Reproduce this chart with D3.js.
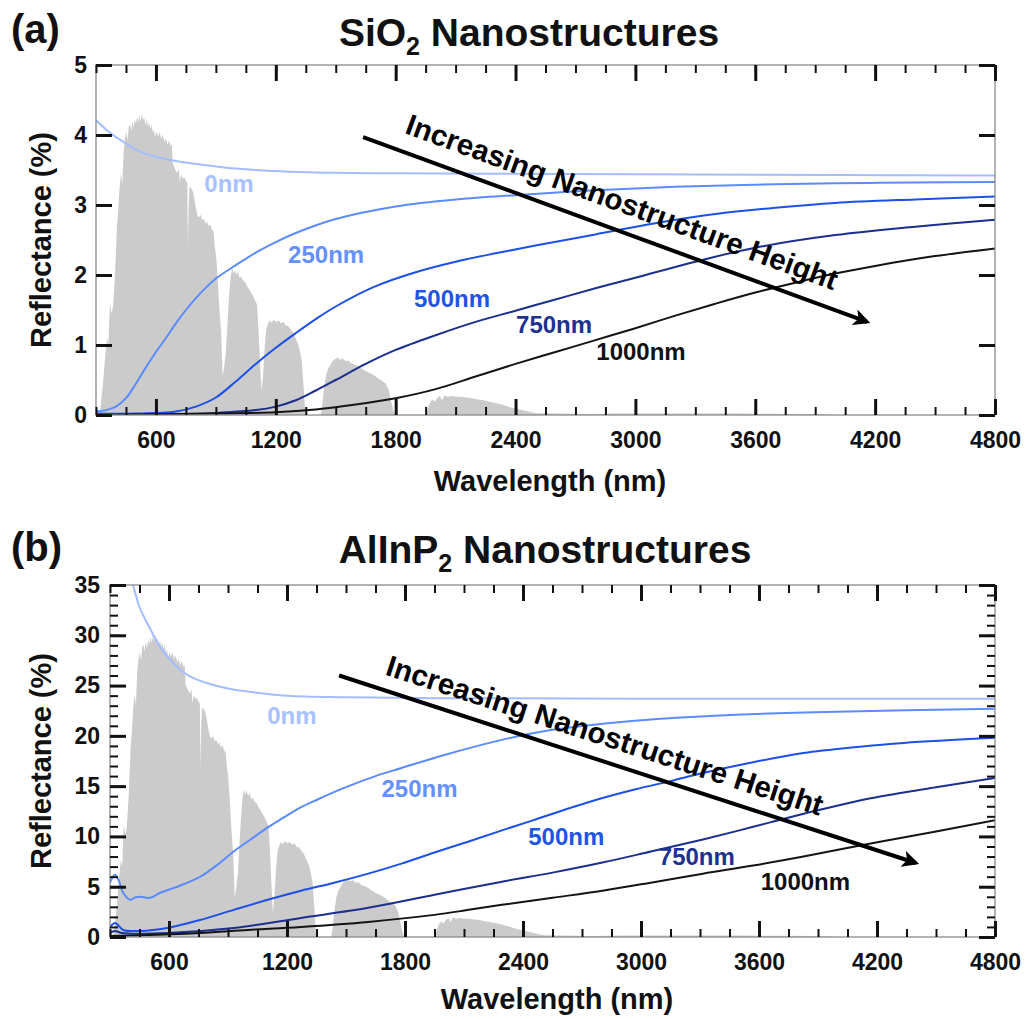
<!DOCTYPE html>
<html><head><meta charset="utf-8">
<script src="https://cdn.jsdelivr.net/npm/d3@7"></script>
<style>
body{margin:0;background:#fff}
svg{display:block}
text{font-family:"Liberation Sans",Arial,sans-serif;font-weight:bold}
</style>
</head><body>
<svg id="chart" width="1027" height="1019"></svg>
<script>
// ---------------- DATA ----------------
const xMajorTicks = [600, 1200, 1800, 2400, 3000, 3600, 4200, 4800];
const yTicksA = [0, 1, 2, 3, 4, 5];
const yTicksB = [0, 5, 10, 15, 20, 25, 30, 35];
const seriesNames = ["0nm", "250nm", "500nm", "750nm", "1000nm"];
const seriesColors = ["#a3bdff", "#5b8bff", "#1c50e8", "#1b2f8e", "#141414"];
const labelColors = ["#a8c1ff", "#6591ff", "#1f55e6", "#1d3191", "#111111"];

// AM1.5-like solar spectrum (drawn in panel (a) reflectance units)
const solarSpectrum = [
  [300,0],[320,0.05],[335,0.45],[345,0.8],[355,1.1],[362,1.0],[370,1.6],[378,1.45],[385,1.55],[395,2.0],
  [405,2.7],[412,2.95],[418,3.25],[425,3.45],[432,3.3],[438,3.75],[445,3.95],[452,4.05],[458,3.92],[464,4.12],
  [470,4.15],[476,4.06],[482,4.2],[488,4.1],[494,4.22],[500,4.16],[506,4.26],[512,4.18],[518,4.29],[524,4.2],
  [530,4.3],[536,4.22],[542,4.24],[548,4.14],[554,4.22],[560,4.12],[566,4.18],[572,4.08],[578,4.15],[584,4.04],
  [590,4.08],[596,3.96],[602,4.05],[610,3.98],[618,4.04],[626,3.95],[634,4.0],[642,3.9],[650,3.95],[658,3.86],
  [666,3.92],[674,3.84],[680,3.86],[684,3.6],[690,3.55],[698,3.5],[706,3.46],[714,3.52],[720,3.32],[726,3.44],
  [734,3.38],[742,3.4],[750,3.34],[757,3.32],[760,2.4],[764,3.0],[768,3.26],[776,3.24],[784,3.2],[792,3.1],
  [800,2.95],[808,2.85],[816,2.82],[824,2.86],[832,2.78],[840,2.8],[848,2.74],[856,2.76],[864,2.7],[872,2.72],
  [880,2.65],[888,2.62],[895,2.4],[902,2.25],[910,1.9],[918,1.5],[926,1.2],[934,0.55],[942,0.7],[950,0.9],
  [958,1.3],[966,1.7],[974,1.98],[982,2.1],[988,2.02],[995,2.08],[1002,2.0],[1010,2.05],[1018,1.96],[1026,1.98],
  [1036,1.92],[1046,1.9],[1056,1.84],[1066,1.8],[1076,1.75],[1086,1.7],[1096,1.64],[1106,1.58],[1112,1.3],[1120,0.8],
  [1128,0.35],[1136,0.55],[1144,0.95],[1152,1.22],[1160,1.3],[1168,1.35],[1178,1.32],[1190,1.36],[1202,1.33],[1214,1.35],
  [1226,1.31],[1238,1.33],[1250,1.28],[1262,1.27],[1274,1.22],[1286,1.18],[1298,1.1],[1310,1.03],[1320,0.92],[1330,0.78],
  [1338,0.45],[1346,0.1],[1352,0],[1425,0],[1432,0.12],[1442,0.4],[1452,0.58],[1462,0.66],[1474,0.72],[1486,0.78],
  [1498,0.8],[1510,0.82],[1522,0.79],[1534,0.81],[1548,0.77],[1562,0.78],[1578,0.74],[1594,0.72],[1612,0.7],[1630,0.66],
  [1650,0.63],[1670,0.6],[1690,0.57],[1710,0.53],[1730,0.49],[1750,0.45],[1765,0.36],[1780,0.16],[1792,0.03],[1800,0],
  [1950,0],[1960,0.08],[1972,0.18],[1984,0.22],[1996,0.19],[2008,0.24],[2020,0.27],[2032,0.21],[2044,0.28],[2060,0.26],
  [2080,0.27],[2100,0.26],[2125,0.26],[2150,0.25],[2180,0.24],[2210,0.22],[2240,0.21],[2270,0.19],[2300,0.17],[2330,0.15],
  [2360,0.12],[2390,0.1],[2420,0.08],[2450,0.06],[2480,0.04],[2510,0.025],[2600,0.02],[2750,0.015],[2900,0.02],[3100,0.02],
  [3300,0.02],[3500,0.02],[3700,0.018],[3900,0.015],[4000,0],[4800,0]
];
const spectrumScaleA = 1.0;
const spectrumScaleB = 7.0;

// Panel (a) SiO2 reflectance (%)
const sio2_0nm = [[300,4.21],[350,4.08],[400,3.97],[450,3.88],[500,3.79],[550,3.73],[600,3.69],[700,3.63],[820,3.58],[1000,3.52],[1155,3.49],[1500,3.46],[2000,3.45],[3000,3.44],[4000,3.43],[4800,3.42]];
const sio2_250nm = [[300,0.05],[350,0.07],[400,0.12],[450,0.24],[500,0.45],[550,0.68],[600,0.9],[650,1.1],[700,1.31],[750,1.5],[800,1.67],[850,1.82],[900,1.95],[1000,2.14],[1100,2.32],[1200,2.47],[1300,2.6],[1500,2.8],[1800,2.98],[2100,3.08],[2400,3.14],[2800,3.21],[3200,3.26],[3600,3.29],[4000,3.31],[4400,3.32],[4800,3.33]];
const sio2_500nm = [[300,0.02],[500,0.02],[700,0.05],[800,0.12],[900,0.25],[1000,0.48],[1100,0.73],[1200,0.96],[1300,1.17],[1400,1.37],[1500,1.55],[1700,1.84],[1900,2.04],[2100,2.19],[2300,2.31],[2500,2.42],[2800,2.58],[3100,2.74],[3400,2.87],[3700,2.96],[4000,3.03],[4400,3.08],[4800,3.12]];
const sio2_750nm = [[300,0.0],[700,0.01],[900,0.03],[1100,0.07],[1200,0.12],[1300,0.21],[1400,0.35],[1500,0.5],[1650,0.73],[1800,0.93],[2000,1.14],[2200,1.33],[2400,1.49],[2600,1.65],[2800,1.81],[3000,1.96],[3300,2.19],[3600,2.39],[4000,2.57],[4400,2.69],[4800,2.79]];
const sio2_1000nm = [[300,0.0],[600,0.01],[900,0.02],[1200,0.04],[1400,0.08],[1600,0.15],[1800,0.24],[2000,0.37],[2200,0.55],[2400,0.73],[2600,0.9],[2800,1.07],[3000,1.24],[3200,1.42],[3400,1.59],[3600,1.75],[3800,1.89],[4000,2.02],[4200,2.13],[4500,2.27],[4800,2.38]];

// Panel (b) AlInP2 reflectance (%)
const alinp_0nm = [[300,42],[350,39],[400,36],[420,34.8],[450,32.8],[500,30.8],[550,29.0],[600,27.7],[650,26.7],[700,26.0],[800,25.2],[900,24.7],[1000,24.4],[1200,24.0],[1500,23.85],[2000,23.75],[3000,23.7],[4800,23.7]];
const alinp_250nm = [[300,5.4],[325,6.2],[345,5.6],[367,4.4],[402,3.7],[430,3.95],[453,4.0],[505,3.9],[555,4.4],[642,5.0],[760,6.0],[847,7.2],[929,8.5],[1015,9.7],[1102,10.9],[1184,11.9],[1270,12.9],[1358,13.7],[1450,14.5],[1526,15.1],[1650,16.0],[1782,16.8],[2000,18.1],[2293,19.6],[2550,20.6],[2804,21.2],[3100,21.7],[3484,22.1],[3995,22.4],[4800,22.7]];
const alinp_500nm = [[300,1.0],[325,1.4],[345,1.1],[367,0.7],[453,0.6],[591,0.9],[760,1.7],[929,2.7],[1102,3.7],[1271,4.6],[1440,5.4],[1613,6.3],[1782,7.3],[1950,8.4],[2124,9.5],[2293,10.6],[2450,11.6],[2635,12.8],[2800,13.8],[2973,14.7],[3150,15.5],[3315,16.3],[3550,17.3],[3826,18.3],[4100,18.9],[4337,19.3],[4800,19.8]];
const alinp_750nm = [[300,0.4],[325,0.6],[360,0.4],[591,0.4],[929,0.9],[1271,1.9],[1613,2.9],[1950,4.2],[2293,5.5],[2550,6.4],[2804,7.4],[3050,8.5],[3315,9.7],[3500,10.6],[3657,11.4],[3900,12.6],[4168,13.8],[4500,14.9],[4800,15.8]];
const alinp_1000nm = [[300,0.1],[500,0.2],[760,0.4],[1000,0.7],[1271,1.0],[1613,1.5],[1950,2.2],[2124,2.7],[2293,3.2],[2550,3.9],[2804,4.6],[3050,5.4],[3315,6.3],[3570,7.1],[3826,8.0],[4168,9.3],[4500,10.5],[4800,11.6]];

// label anchors (data coords: nm, reflectance at baseline)
const labelPosA = [[966,3.19],[1452,2.17],[2082,1.54],[2593,1.17],[3028,0.79]];
const labelPosB = [[1225,21.2],[1874,13.9],[2620,9.15],[3284,7.16],[3836,4.67]];
// arrows: [startNm, startR, endNm, endR]
const arrowA = [1637, 3.97, 4160, 1.33];
const arrowB = [1465, 26.0, 4398, 7.36];
const arrowText = "Increasing Nanostructure Height";

// ---------------- DRAW ----------------
const svg = d3.select("#chart");
const defs = svg.append("defs");
defs.append("marker").attr("id","arrowhead").attr("viewBox","0 0 10 10")
  .attr("refX",8).attr("refY",5).attr("markerWidth",4.2).attr("markerHeight",4.2)
  .attr("orient","auto").attr("markerUnits","strokeWidth")
  .append("path").attr("d","M0,0 L10,5 L0,10 L2.5,5 Z").attr("fill","#000");

const fmt = d3.format("d");

function styleAxis(g, width, showText, fontSize) {
  g.attr("font-size", null).attr("font-family", null);
  g.select(".domain").remove();
  g.selectAll(".tick line").attr("stroke", "#111").attr("stroke-width", width);
  g.selectAll(".tick text").attr("fill", "#111").style("font-size", fontSize + "px")
    .style("display", showText ? null : "none");
}

function drawPanel(p) {
  const x = d3.scaleLinear().domain([300, 4800]).range([p.left, p.right]);
  const y = d3.scaleLinear().domain([0, p.yMax]).range([p.bottom, p.top]);
  const g = svg.append("g");
  const clipId = "clip" + p.id;
  defs.append("clipPath").attr("id", clipId).append("rect")
    .attr("x", p.left).attr("y", p.top).attr("width", p.right - p.left).attr("height", p.bottom - p.top);

  const area = d3.area().x(d => x(d[0])).y0(y(0)).y1(d => y(d[1] * p.specScale));
  g.append("path").datum(solarSpectrum).attr("d", area).attr("fill", "#cbcbcb")
    .attr("clip-path", `url(#${clipId})`);

  const line = d3.line().x(d => x(d[0])).y(d => y(d[1])).curve(d3.curveCatmullRom.alpha(0.5));
  p.series.forEach((s, i) => {
    g.append("path").datum(s).attr("d", line).attr("fill", "none")
      .attr("stroke", seriesColors[i]).attr("stroke-width", 2)
      .attr("clip-path", `url(#${clipId})`);
  });

  // frame
  g.append("rect").attr("x", p.left).attr("y", p.top).attr("width", p.right - p.left)
    .attr("height", p.bottom - p.top).attr("fill", "none").attr("stroke", "#8a8a8a").attr("stroke-width", 1.3);

  const minorX = d3.range(300, 4801, 150);
  // bottom
  g.append("g").attr("transform", `translate(0,${p.bottom})`)
    .call(d3.axisBottom(x).tickValues(minorX).tickSizeInner(-8).tickSizeOuter(0).tickFormat(""))
    .call(a => styleAxis(a, 2, false, 20));
  g.append("g").attr("transform", `translate(0,${p.bottom})`)
    .call(d3.axisBottom(x).tickValues(xMajorTicks).tickSizeInner(-16).tickSizeOuter(0).tickPadding(p.xPad).tickFormat(fmt))
    .call(a => styleAxis(a, 3, true, p.tickFont));
  // top
  g.append("g").attr("transform", `translate(0,${p.top})`)
    .call(d3.axisTop(x).tickValues(minorX).tickSizeInner(-8).tickSizeOuter(0).tickFormat(""))
    .call(a => styleAxis(a, 2, false, 20));
  g.append("g").attr("transform", `translate(0,${p.top})`)
    .call(d3.axisTop(x).tickValues(xMajorTicks).tickSizeInner(-16).tickSizeOuter(0).tickFormat(""))
    .call(a => styleAxis(a, 3, false, 20));
  // y minor
  if (p.yMinor) {
    const my = d3.range(0, p.yMax + 0.001, p.yMinor);
    g.append("g").attr("transform", `translate(${p.left},0)`)
      .call(d3.axisLeft(y).tickValues(my).tickSizeInner(-8).tickSizeOuter(0).tickFormat(""))
      .call(a => styleAxis(a, 2, false, 20));
    g.append("g").attr("transform", `translate(${p.right},0)`)
      .call(d3.axisRight(y).tickValues(my).tickSizeInner(-8).tickSizeOuter(0).tickFormat(""))
      .call(a => styleAxis(a, 2, false, 20));
  }
  g.append("g").attr("transform", `translate(${p.left},0)`)
    .call(d3.axisLeft(y).tickValues(p.yTicks).tickSizeInner(-16).tickSizeOuter(0).tickPadding(p.yPad).tickFormat(fmt))
    .call(a => styleAxis(a, 3, true, p.tickFont));
  g.append("g").attr("transform", `translate(${p.right},0)`)
    .call(d3.axisRight(y).tickValues(p.yTicks).tickSizeInner(-16).tickSizeOuter(0).tickFormat(""))
    .call(a => styleAxis(a, 3, false, 20));

  // axis titles
  g.append("text").attr("x", p.xTitle[0]).attr("y", p.xTitle[1]).attr("text-anchor", "middle")
    .style("font-size", "29px").attr("fill", "#111").text("Wavelength (nm)");
  g.append("text").attr("transform", `translate(${p.yTitle[0]},${p.yTitle[1]}) rotate(-90)`)
    .attr("text-anchor", "middle").style("font-size", "29px").attr("fill", "#111").text("Reflectance (%)");

  // title
  const t = g.append("text").attr("x", p.titlePos[0]).attr("y", p.titlePos[1])
    .attr("text-anchor", "middle").style("font-size", "39px").attr("fill", "#111");
  t.append("tspan").text(p.titleMain);
  t.append("tspan").text("2").style("font-size", "25px").attr("dy", 9);
  t.append("tspan").text(" Nanostructures").attr("dy", -9);
  g.append("text").attr("x", 11).attr("y", p.letterY).style("font-size", "40px").attr("fill", "#111").text(p.letter);

  // series labels
  p.labels.forEach((pos, i) => {
    g.append("text").attr("x", x(pos[0])).attr("y", y(pos[1])).attr("text-anchor", "middle")
      .style("font-size", "24px").attr("fill", labelColors[i]).text(seriesNames[i]);
  });

  // arrow
  const a = p.arrow;
  const x1 = x(a[0]), y1 = y(a[1]), x2 = x(a[2]), y2 = y(a[3]);
  g.append("line").attr("x1", x1).attr("y1", y1).attr("x2", x2).attr("y2", y2)
    .attr("stroke", "#000").attr("stroke-width", 4).attr("marker-end", "url(#arrowhead)");
  const ang = Math.atan2(y2 - y1, x2 - x1);
  const len = Math.hypot(x2 - x1, y2 - y1);
  const ux = Math.cos(ang), uy = Math.sin(ang);
  const along = len / 2 + p.textAlong, perp = p.textPerp;
  const cx = x1 + ux * along + uy * perp, cy = y1 + uy * along - ux * perp;
  g.append("text").attr("transform", `translate(${cx},${cy}) rotate(${ang * 180 / Math.PI})`)
    .attr("text-anchor", "middle").style("font-size", "29.5px").attr("fill", "#000").text(arrowText);
}

drawPanel({
  id: "a", left: 96, right: 995, top: 65, bottom: 415, yMax: 5, yTicks: yTicksA, yMinor: null,
  specScale: spectrumScaleA, series: [sio2_0nm, sio2_250nm, sio2_500nm, sio2_750nm, sio2_1000nm],
  labels: labelPosA, arrow: arrowA, textAlong: -3, textPerp: 18,
  xPad: 17, yPad: 9, tickFont: 23, xTitle: [550, 491], yTitle: [51, 240],
  titlePos: [529, 46], titleMain: "SiO", letter: "(a)", letterY: 43
});
drawPanel({
  id: "b", left: 110, right: 995, top: 585, bottom: 937, yMax: 35, yTicks: yTicksB, yMinor: 1,
  specScale: spectrumScaleB, series: [alinp_0nm, alinp_250nm, alinp_500nm, alinp_750nm, alinp_1000nm],
  labels: labelPosB, arrow: arrowB, textAlong: -32, textPerp: 15,
  xPad: 17, yPad: 10, tickFont: 23, xTitle: [557, 1009], yTitle: [51, 761],
  titlePos: [545, 563], titleMain: "AlInP", letter: "(b)", letterY: 561
});
</script>
</body></html>
